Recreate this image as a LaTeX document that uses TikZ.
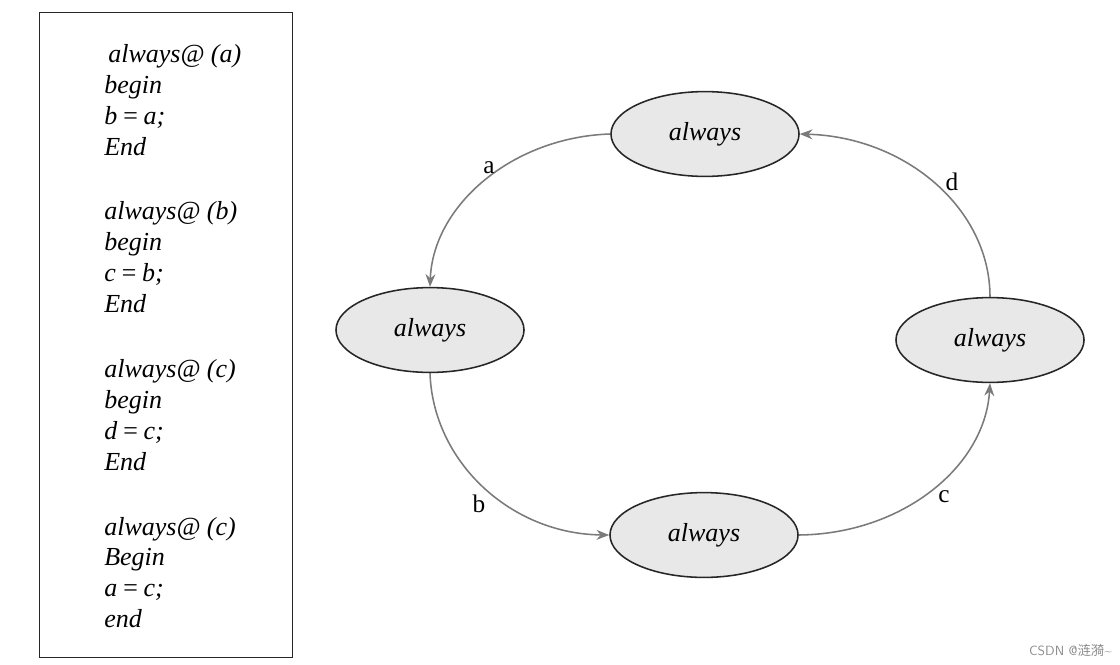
\documentclass[tikz,border=0pt]{standalone}
\usepackage{fontspec}
\setmainfont{Liberation Serif}
\newfontfamily\cjk{Noto Sans CJK SC}
\usetikzlibrary{arrows.meta,shapes.geometric}
\definecolor{ellfill}{HTML}{E8E8E8}
\definecolor{arrgray}{HTML}{7A7A7A}
\tikzset{
  codeline/.style={anchor=base west,inner sep=0pt,font=\fontsize{18.5}{20}\selectfont\itshape},
  alw/.style={ellipse,draw=black!85,line width=1.1pt,fill=ellfill,minimum width=4.7cm,minimum height=2.12cm,inner sep=0pt,font=\fontsize{18.5}{20}\selectfont\itshape},
  flow/.style={draw=arrgray,line width=1.1pt,-{Stealth[length=9pt,width=7pt]}},
  lbl/.style={font=\fontsize{18}{20}\selectfont,inner sep=0pt}
}
\begin{document}
\begin{tikzpicture}[x=0.025cm,y=-0.025cm]
\useasboundingbox (0,0) rectangle (1120,665);
\fill[white] (0,0) rectangle (1120,665);
% code box
\node[draw=black!85,line width=1pt,minimum width=253*0.025cm,minimum height=645*0.025cm,inner sep=0pt,anchor=north west] (box) at (39,12) {};
\node[codeline] (l1) at (108,62) {always@ (a)};
\node[codeline] (l2) at (104,93) {begin};
\node[codeline] (l3) at (104,124) {b\,=\,a;};
\node[codeline] (l4) at (104,155) {End};
\node[codeline] (l5) at (104,219) {always@ (b)};
\node[codeline] (l6) at (104,250) {begin};
\node[codeline] (l7) at (104,281) {c\,=\,b;};
\node[codeline] (l8) at (104,312) {End};
\node[codeline] (l9) at (104,377) {always@ (c)};
\node[codeline] (l10) at (104,408) {begin};
\node[codeline] (l11) at (104,439) {d\,=\,c;};
\node[codeline] (l12) at (104,470) {End};
\node[codeline] (l13) at (104,535) {always@ (c)};
\node[codeline] (l14) at (104,565) {Begin};
\node[codeline] (l15) at (104,596) {a\,=\,c;};
\node[codeline] (l16) at (104,627) {end};
% ellipses
\node[alw] (top) at (705,134) {always};
\node[alw] (left) at (430,330) {always};
\node[alw] (bot) at (704,535) {always};
\node[alw] (right) at (990,340) {always};
% connectors
\draw[flow] (top.west) .. controls (513,137) and (433,205) .. (left.north);
\draw[flow] (left.south) .. controls (433,462) and (511,534) .. (bot.west);
\draw[flow] (bot.east) .. controls (902,534) and (985,467) .. (right.south);
\draw[flow] (right.north) .. controls (990,209) and (906,137) .. (top.east);
% labels
\node[lbl] (la) at (489,168) {a};
\node[lbl] (lb) at (479,504) {b};
\node[lbl] (lc) at (944,497) {c};
\node[lbl] (ld) at (952,182) {d};
% watermark
\node[anchor=east,inner sep=0pt,text=black!45,font=\fontsize{9.5}{10}\selectfont\sffamily] (wm) at (1112,650) {CSDN @{\cjk 涟漪}\textasciitilde};
\end{tikzpicture}
\end{document}
